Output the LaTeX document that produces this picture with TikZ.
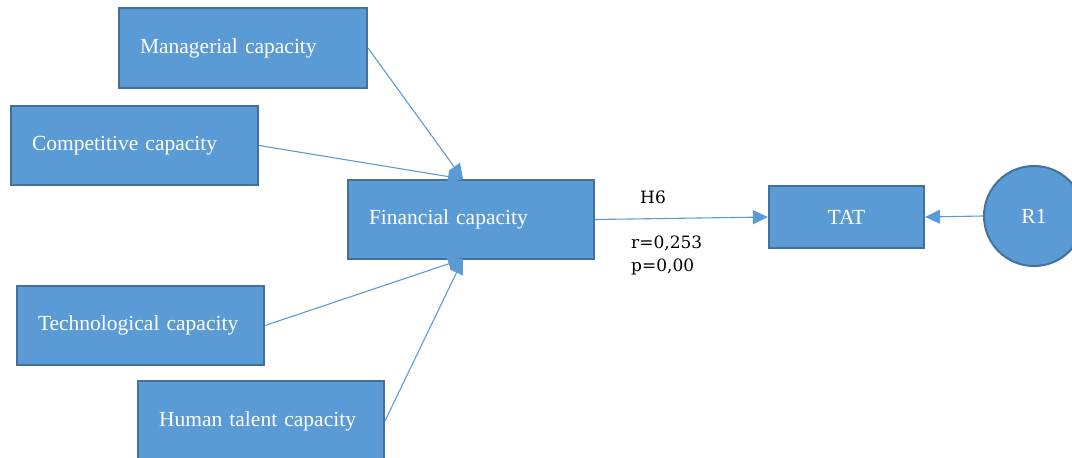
\documentclass[tikz,border=0pt]{standalone}
\usepackage{fontspec}
\setmainfont{Liberation Serif}
\newfontfamily\labelfont{DejaVu Serif}
\usetikzlibrary{arrows.meta}
\definecolor{boxfill}{HTML}{5B9BD5}
\definecolor{boxedge}{HTML}{41719C}
\tikzset{
  capbox/.style={draw=boxedge, line width=2pt, fill=boxfill, text=white,
    font=\fontsize{21.5}{24}\selectfont, text width=#1, align=left,
    inner xsep=21pt, inner ysep=0pt, minimum height=80pt, anchor=north west},
  tatbox/.style={draw=boxedge, line width=2pt, fill=boxfill, text=white,
    font=\fontsize{21.5}{24}\selectfont, minimum width=155pt, minimum height=62pt,
    anchor=north west, inner sep=0pt},
  rcircle/.style={circle, draw=boxedge, line width=2pt, fill=boxfill, text=white,
    font=\fontsize{21.5}{24}\selectfont, minimum size=100pt, inner sep=0pt},
  link/.style={draw=boxfill, line width=1.1pt, -{Triangle[length=15pt,width=14pt]}},
  lbl/.style={font=\labelfont\fontsize{17}{20}\selectfont, text=black, anchor=base west, inner sep=0pt}
}
\begin{document}
\begin{tikzpicture}[x=1pt,y=-1pt]
\useasboundingbox (0,0) rectangle (1072,458);
\node[capbox=206pt] (man) at (118,7) {Managerial capacity};
\node[capbox=205pt, minimum height=79pt] (comp) at (10,105) {Competitive capacity};
\node[capbox=204pt, minimum height=79pt] (fin) at (347,179) {Financial capacity};
\node[capbox=205pt, minimum height=79pt] (tech) at (16,285) {Technological capacity};
\node[capbox=204pt] (hum) at (137,380) {Human talent capacity};
\node[tatbox] (tat) at (768,185) {TAT};
\node[rcircle] (r1) at (1034,216) {R1};
\coordinate (ftop) at (463,179);
\coordinate (fbot) at (463,259);
\draw[link] (man.east) -- (ftop);
\draw[link] (comp.east) -- (ftop);
\draw[link] (tech.east) -- (fbot);
\draw[link] (hum.east) -- (fbot);
\draw[link] (fin.east) -- (tat.west);
\draw[link] (r1.west) -- (tat.east);
\node[lbl] (h6) at (640,203) {H6};
\node[lbl] (rv) at (631,248) {r=0,253};
\node[lbl] (pv) at (631,271) {p=0,00};
\end{tikzpicture}
\end{document}
